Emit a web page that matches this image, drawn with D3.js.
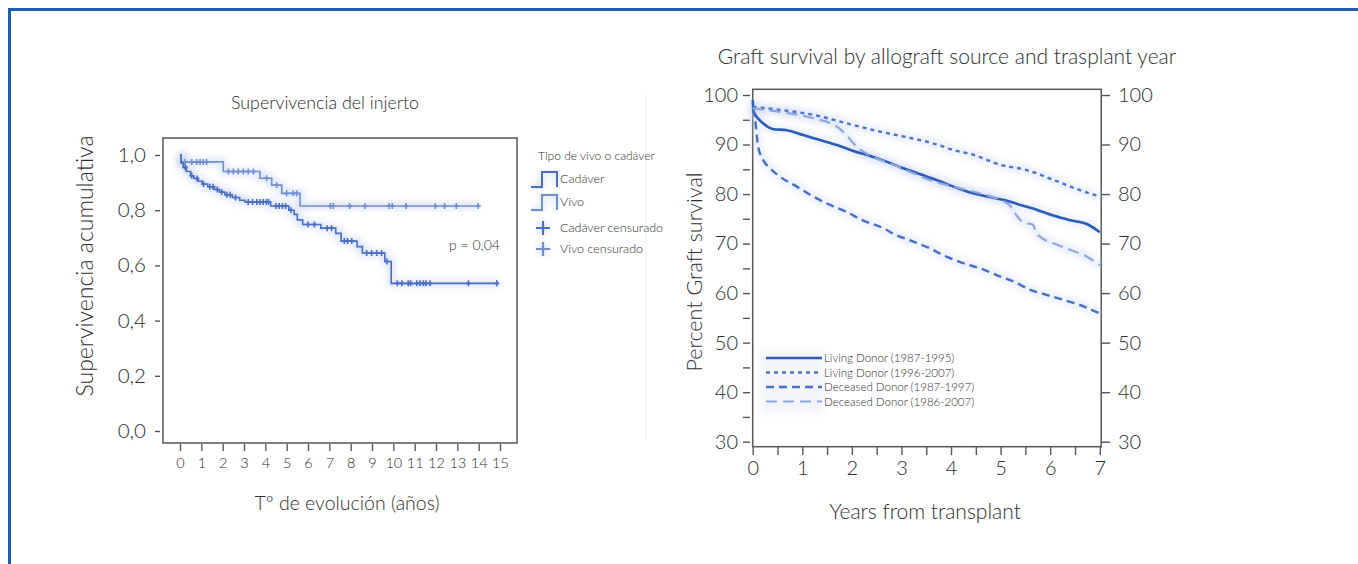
<!DOCTYPE html>
<html>
<head>
<meta charset="utf-8">
<script src="https://cdn.jsdelivr.net/npm/d3@7"></script>
<style>
  body { margin: 0; background: #fff; }
  svg { display: block; font-family: Lato, "Open Sans", sans-serif; font-weight: 300; }
  text { fill: #2e2e2e; }
</style>
</head>
<body>
<svg id="chart" width="1358" height="564"></svg>
<script>
// ---- left chart: Supervivencia del injerto (Kaplan-Meier) ----
var kmYears = [0, 1, 2, 3, 4, 5, 6, 7, 8, 9, 10, 11, 12, 13, 14, 15];
var kmTicks = [0, 0.2, 0.4, 0.6, 0.8, 1.0];

// step curves: [años, supervivencia]
var vivoSteps = [[0, 1.0], [0.05, 0.975], [2.03, 0.94], [3.75, 0.916], [4.3, 0.891],
    [4.77, 0.861], [5.63, 0.815], [14.0, 0.815]];
var cadaverSteps = [[0, 1.0], [0.05, 0.97], [0.15, 0.955], [0.3, 0.94], [0.5, 0.925],
    [0.65, 0.915], [0.85, 0.905], [1.05, 0.895], [1.3, 0.885], [1.6, 0.875], [1.85, 0.866],
    [2.1, 0.856], [2.45, 0.846], [2.8, 0.836], [3.05, 0.83], [4.25, 0.815], [5.1, 0.8],
    [5.35, 0.785], [5.5, 0.765], [5.75, 0.748], [6.6, 0.735], [7.3, 0.716], [7.55, 0.688],
    [8.3, 0.668], [8.55, 0.645], [9.6, 0.614], [9.9, 0.535], [14.95, 0.535]];

// censored times
var vivoCens = [0.23, 0.55, 0.78, 0.94, 1.09, 1.25, 2.27, 2.5, 2.73, 2.97, 3.2, 3.44, 4.06,
    4.53, 5.0, 5.3, 5.47, 7.05, 7.18, 7.95, 8.67, 9.8, 9.95, 10.6, 11.97, 12.4, 12.95, 13.98];
var cadaverCens = [0.25, 0.55, 0.8, 1.1, 1.4, 1.55, 1.75, 1.95, 2.2, 2.35, 2.6, 3.2, 3.4,
    3.6, 3.75, 3.9, 4.05, 4.15, 4.5, 4.65, 4.8, 4.95, 5.2, 6.0, 6.3, 6.9, 7.1, 7.7, 7.85,
    8.05, 8.75, 8.98, 9.22, 9.45, 9.7, 10.19, 10.4, 10.7, 10.81, 11.1, 11.25, 11.41, 11.53,
    11.72, 13.52, 14.85];

// ---- right chart: Graft survival by allograft source ----
var gsYears = [0, 1, 2, 3, 4, 5, 6, 7];
var gsTicks = [30, 40, 50, 60, 70, 80, 90, 100];

var livingEarly = [[0, 99], [0.02, 96.6], [0.21, 94.3], [0.42, 93.1], [0.69, 92.9],
    [1.02, 91.9], [1.36, 90.9], [1.7, 89.9], [2.03, 88.7], [2.37, 87.7], [2.71, 86.5],
    [3.04, 85.2], [3.38, 84.0], [3.72, 82.8], [4.05, 81.5], [4.39, 80.3], [4.73, 79.5],
    [5.07, 78.8], [5.4, 77.8], [5.74, 76.8], [6.08, 75.6], [6.41, 74.7], [6.75, 73.9], [7.0, 72.3]];
var livingLate = [[0, 97.6], [0.55, 97.0], [1.22, 96.0], [1.89, 94.3], [2.57, 92.6],
    [3.24, 91.2], [3.65, 90.2], [4.05, 88.9], [4.46, 87.9], [5.0, 85.9], [5.54, 84.8],
    [6.08, 82.8], [6.6, 80.8], [7.0, 79.5]];
var deceasedEarly = [[0, 97.2], [0.03, 96.3], [0.11, 89.6], [0.21, 86.9], [0.35, 85.2],
    [0.55, 83.5], [0.89, 81.5], [1.22, 79.5], [1.56, 77.8], [1.89, 76.4], [2.22, 74.7],
    [2.57, 73.4], [2.9, 71.7], [3.24, 70.4], [3.58, 69.0], [3.92, 67.3], [4.26, 66.0],
    [4.59, 65.0], [4.93, 63.6], [5.27, 62.3], [5.61, 60.6], [5.94, 59.6], [6.28, 58.6],
    [6.6, 57.6], [7.0, 55.9]];
var deceasedLate = [[0, 97.3], [0.55, 96.6], [1.22, 95.3], [1.7, 93.6], [1.89, 91.9],
    [2.09, 89.6], [2.43, 87.5], [2.84, 85.9], [3.24, 84.2], [3.58, 82.8], [4.05, 81.5],
    [4.59, 80.1], [5.0, 78.8], [5.2, 77.6], [5.3, 76.0], [5.45, 74.3], [5.65, 73.8],
    [5.72, 72.2], [5.82, 71.2], [6.08, 70.0], [6.41, 68.7], [6.75, 67.3], [7.0, 65.6]];

var gsSeries = [
    { name: "Living Donor (1987-1995)", data: livingEarly, color: "#2b5cb8", width: 2.6, dash: null },
    { name: "Living Donor (1996-2007)", data: livingLate, color: "#4e72c6", width: 2.4, dash: "4,4" },
    { name: "Deceased Donor (1987-1997)", data: deceasedEarly, color: "#4a6fc6", width: 2.4, dash: "8,5" },
    { name: "Deceased Donor (1986-2007)", data: deceasedLate, color: "#8ea6de", width: 2.2, dash: "11,6" }
];

var svg = d3.select("#chart");

var defs = svg.append("defs");
defs.append("filter").attr("id", "halo")
    .attr("x", "-10%").attr("y", "-10%").attr("width", "120%").attr("height", "120%")
    .append("feGaussianBlur").attr("stdDeviation", 3);

// page frame (blue rule top and left)
svg.append("line").attr("x1", 8).attr("x2", 1358).attr("y1", 9.5).attr("y2", 9.5)
    .attr("stroke", "#1d5fae").attr("stroke-width", 3);
svg.append("line").attr("x1", 9.5).attr("x2", 9.5).attr("y1", 8).attr("y2", 564)
    .attr("stroke", "#1d5fae").attr("stroke-width", 3);

// faint divider
svg.append("line").attr("x1", 646).attr("x2", 646).attr("y1", 95).attr("y2", 440)
    .attr("stroke", "#f0f0f0").attr("stroke-width", 1);

drawKM();
drawGraft();

function stepValue(steps, t) {
    var v = steps[0][1];
    steps.forEach(d => { if (d[0] <= t) v = d[1]; });
    return v;
}

function styleAxis(a, size) {
    a.select(".domain").remove();
    a.selectAll("line").attr("stroke", "#555").attr("stroke-width", 1.4);
    a.selectAll("text").attr("font-size", size).attr("font-family", "Lato")
        .attr("font-weight", 300).attr("fill", "#2e2e2e");
}

function drawKM() {
    var x = d3.scaleLinear().domain([0, 15]).range([180, 500]);
    var y = d3.scaleLinear().domain([0, 1]).range([431, 155]);
    var g = svg.append("g");

    g.append("text").attr("x", 325).attr("y", 109).attr("text-anchor", "middle")
        .attr("font-size", 17.8).text("Supervivencia del injerto");

    // box
    g.append("rect").attr("x", 163).attr("y", 138).attr("width", 354).attr("height", 305)
        .attr("fill", "none").attr("stroke", "#555").attr("stroke-width", 1.5);

    var ya = g.append("g").attr("transform", "translate(160,0)")
        .call(d3.axisLeft(y).tickValues(kmTicks).tickSize(5).tickPadding(9)
            .tickFormat(d => d3.format(".1f")(d).replace(".", ",")));
    styleAxis(ya, 20.5);

    var xa = g.append("g").attr("transform", "translate(0,444)")
        .call(d3.axisBottom(x).tickValues(kmYears).tickSize(7).tickPadding(7));
    styleAxis(xa, 14.5);

    g.append("text").attr("x", 347).attr("y", 510).attr("text-anchor", "middle")
        .attr("font-size", 19.5).text("Tº de evolución (años)");
    g.append("text").attr("transform", "translate(93,266) rotate(-90)")
        .attr("text-anchor", "middle").attr("font-size", 23).text("Supervivencia acumulativa");

    var line = d3.line().x(d => x(d[0])).y(d => y(d[1])).curve(d3.curveStepAfter);
    var curves = [
        { steps: vivoSteps, cens: vivoCens, color: "#6f8fd2" },
        { steps: cadaverSteps, cens: cadaverCens, color: "#4a6ec2" }
    ];
    curves.forEach(c => {
        g.append("path").attr("d", line(c.steps)).attr("fill", "none")
            .attr("stroke", "#b9c8ee").attr("stroke-width", 8).attr("opacity", 0.45)
            .attr("filter", "url(#halo)");
    });
    curves.forEach(c => {
        g.append("path").attr("d", line(c.steps)).attr("fill", "none")
            .attr("stroke", c.color).attr("stroke-width", 1.6);
        g.selectAll(null).data(c.cens).enter().append("path")
            .attr("d", t => {
                var px = x(t), py = y(stepValue(c.steps, t));
                return "M" + (px - 2.5) + "," + py + "H" + (px + 2.5) +
                    "M" + px + "," + (py - 3) + "V" + (py + 3);
            })
            .attr("stroke", c.color).attr("stroke-width", 1.6);
    });

    g.append("text").attr("x", 449).attr("y", 250).attr("font-size", 14).text("p = 0,04");

    // legend
    var lg = g.append("g").attr("font-size", 12.5);
    lg.append("text").attr("x", 538).attr("y", 160).attr("font-size", 12).text("Tipo de vivo o cadáver");
    var items = [
        { label: "Cadáver", y: 183, type: "step", color: "#4a6ec2" },
        { label: "Vivo", y: 206, type: "step", color: "#6f8fd2" },
        { label: "Cadáver censurado", y: 232, type: "cross", color: "#4a6ec2" },
        { label: "Vivo censurado", y: 253, type: "cross", color: "#6f8fd2" }
    ];
    items.forEach(it => {
        var path = it.type === "step"
            ? "M531," + (it.y + 4) + "H542V" + (it.y - 11) + "H557V" + (it.y + 4)
            : "M536," + (it.y - 4) + "H550M543," + (it.y - 11) + "V" + (it.y + 3);
        lg.append("path").attr("d", path).attr("fill", "none").attr("stroke", "#c5d1f0")
            .attr("stroke-width", 6).attr("opacity", 0.5).attr("filter", "url(#halo)");
        lg.append("path").attr("d", path).attr("fill", "none").attr("stroke", it.color)
            .attr("stroke-width", it.type === "step" ? 2 : 2.2);
        lg.append("text").attr("x", 560).attr("y", it.y).text(it.label);
    });
}

function drawGraft() {
    var x = d3.scaleLinear().domain([0, 7]).range([752.7, 1099.8]);
    var y = d3.scaleLinear().domain([30, 100]).range([441.7, 95]);
    var g = svg.append("g");

    g.append("text").attr("x", 947).attr("y", 64).attr("text-anchor", "middle")
        .attr("font-size", 21).text("Graft survival by allograft source and trasplant year");

    g.append("rect").attr("x", 752.7).attr("y", 89.3).attr("width", 348.5).attr("height", 357.4)
        .attr("fill", "none").attr("stroke", "#555").attr("stroke-width", 1.5);

    var ya = g.append("g").attr("transform", "translate(750,0)")
        .call(d3.axisLeft(y).tickValues(d3.range(30, 101, 5)).tickSize(7).tickPadding(5)
            .tickFormat(d => d % 10 === 0 ? d : ""));
    styleAxis(ya, 20);

    var yr = g.append("g").attr("transform", "translate(1102,0)")
        .call(d3.axisRight(y).tickValues(gsTicks).tickSize(8).tickPadding(8));
    styleAxis(yr, 20);

    var xa = g.append("g").attr("transform", "translate(0,447)")
        .call(d3.axisBottom(x).tickValues(d3.range(0, 7.01, 0.5)).tickSize(8).tickPadding(6)
            .tickFormat(d => Number.isInteger(d) ? d : ""));
    styleAxis(xa, 20);

    g.append("text").attr("x", 925).attr("y", 519).attr("text-anchor", "middle")
        .attr("font-size", 21).text("Years from transplant");
    g.append("text").attr("transform", "translate(702,272) rotate(-90)")
        .attr("text-anchor", "middle").attr("font-size", 21.5).text("Percent Graft survival");

    var line = d3.line().x(d => x(d[0])).y(d => y(d[1])).curve(d3.curveMonotoneX);
    gsSeries.forEach(s => {
        g.append("path").attr("d", line(s.data)).attr("fill", "none")
            .attr("stroke", "#c3d0f0").attr("stroke-width", 9).attr("opacity", 0.35)
            .attr("filter", "url(#halo)");
    });
    gsSeries.forEach(s => {
        g.append("path").attr("d", line(s.data)).attr("fill", "none")
            .attr("stroke", s.color).attr("stroke-width", s.width)
            .attr("stroke-dasharray", s.dash);
    });

    // legend
    g.append("rect").attr("x", 760).attr("y", 350).attr("width", 64).attr("height", 64)
        .attr("fill", "#eef1fa").attr("opacity", 0.7).attr("filter", "url(#halo)");
    var lg = g.append("g").attr("font-size", 11.5);
    gsSeries.forEach((s, i) => {
        var ly = 358 + i * 14.5;
        lg.append("line").attr("x1", 766).attr("x2", 822).attr("y1", ly).attr("y2", ly)
            .attr("stroke", s.color).attr("stroke-width", s.width)
            .attr("stroke-dasharray", s.dash);
        lg.append("text").attr("x", 824).attr("y", ly + 4).text(s.name);
    });
}
</script>
</body>
</html>
